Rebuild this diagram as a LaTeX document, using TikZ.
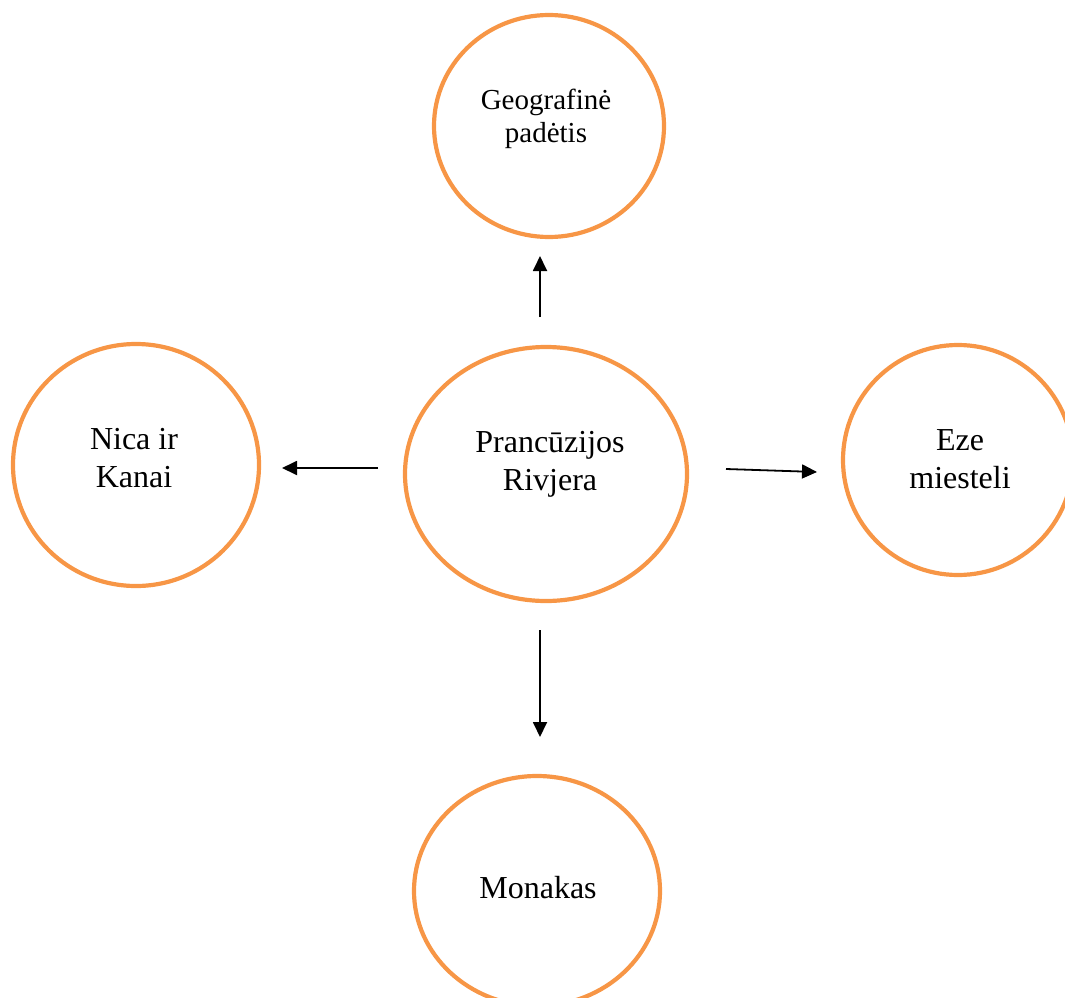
\documentclass[tikz,border=0pt]{standalone}
\usepackage{fontspec}
\setmainfont{Liberation Serif}
\usetikzlibrary{shapes.geometric,arrows.meta}
\definecolor{accent}{HTML}{F79646}
\begin{document}
\begin{tikzpicture}[x=1pt, y=-1pt,
    blob/.style={ellipse, draw=accent, line width=4.2pt, inner sep=0pt},
    txt/.style={align=center, font=\fontsize{32}{38}\selectfont},
    arr/.style={-{Triangle[length=15pt, width=14pt]}, line width=1.8pt}]
          \clip (0,0) rectangle (1065,998);
          \node[blob, minimum width=230pt, minimum height=222pt] (geo) at (549, 126) {};
          \node[blob, minimum width=246pt, minimum height=242pt] (nica) at (136, 465) {};
          \node[blob, minimum width=282pt, minimum height=254pt] (riv) at (546, 474) {};
          \node[blob, minimum width=230pt, minimum height=230pt] (eze) at (958, 460) {};
          \node[blob, minimum width=246pt, minimum height=230pt] (mon) at (537, 891) {};

          \node[txt, font=\fontsize{29}{33}\selectfont] (geo-t) at (546, 119) {Geografinė\\padėtis};
          \node[txt] (nica-t) at (134, 458) {Nica ir\\Kanai};
          \node[txt] (riv-t) at (550, 464) {Prancūzijos\\Rivjera};
          \node[txt] (eze-t) at (960, 459) {Eze\\miesteli};
          \node[txt] (mon-t) at (538, 888) {Monakas};

          \coordinate (up-s) at (540, 317);
          \coordinate (up-e) at (540, 256);
          \coordinate (lt-s) at (378, 468);
          \coordinate (lt-e) at (282, 468);
          \coordinate (rt-s) at (726, 469);
          \coordinate (rt-e) at (817, 472);
          \coordinate (dn-s) at (540, 630);
          \coordinate (dn-e) at (540, 737);

          \draw[arr] (up-s) -- (up-e);
          \draw[arr] (lt-s) -- (lt-e);
          \draw[arr] (rt-s) -- (rt-e);
          \draw[arr] (dn-s) -- (dn-e);
        \end{tikzpicture}
\end{document}
